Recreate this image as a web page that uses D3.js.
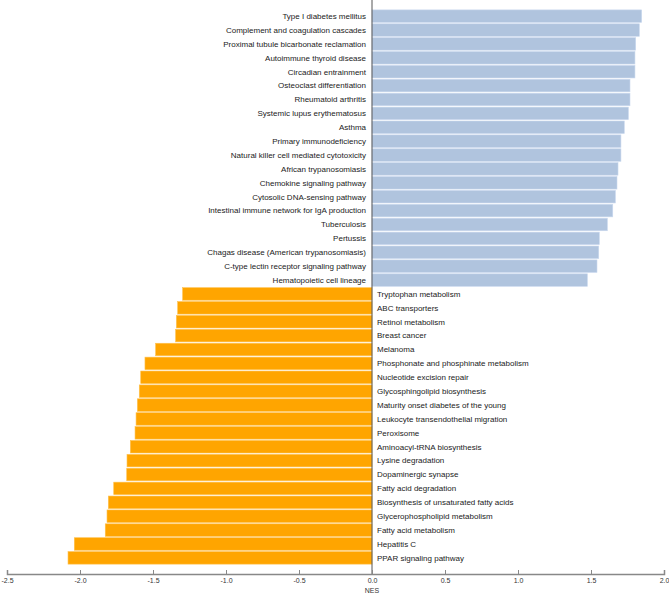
<html>
<head>
<meta charset="UTF-8" />
</head>
<body style="margin:0">
<script src="https://d3js.org/d3.v7.min.js" charset="utf-8"></script>
<script>
var width = 669;
var height = 595;

// enriched pathways (positive NES)
var upPathways = ["Type I diabetes mellitus","Complement and coagulation cascades","Proximal tubule bicarbonate reclamation",
	"Autoimmune thyroid disease","Circadian entrainment","Osteoclast differentiation","Rheumatoid arthritis",
	"Systemic lupus erythematosus","Asthma","Primary immunodeficiency","Natural killer cell mediated cytotoxicity",
	"African trypanosomiasis","Chemokine signaling pathway","Cytosolic DNA-sensing pathway",
	"Intestinal immune network for IgA production","Tuberculosis","Pertussis","Chagas disease (American trypanosomiasis)",
	"C-type lectin receptor signaling pathway","Hematopoietic cell lineage"];
var upNES = [1.847,1.831,1.806,1.801,1.801,1.767,1.767,1.756,1.728,1.705,1.705,
	1.685,1.678,1.667,1.649,1.612,1.557,1.553,1.541,1.475];

// depleted pathways (negative NES)
var downPathways = ["Tryptophan metabolism","ABC transporters","Retinol metabolism","Breast cancer","Melanoma",
	"Phosphonate and phosphinate metabolism","Nucleotide excision repair","Glycosphingolipid biosynthesis",
	"Maturity onset diabetes of the young","Leukocyte transendothelial migration","Peroxisome",
	"Aminoacyl-tRNA biosynthesis","Lysine degradation","Dopaminergic synapse","Fatty acid degradation",
	"Biosynthesis of unsaturated fatty acids","Glycerophospholipid metabolism","Fatty acid metabolism",
	"Hepatitis C","PPAR signaling pathway"];
var downNES = [-1.297,-1.331,-1.340,-1.345,-1.482,-1.555,-1.584,-1.594,-1.607,-1.616,-1.623,
	-1.655,-1.678,-1.680,-1.769,-1.806,-1.815,-1.827,-2.039,-2.082];

var xTicks = [-2.5,-2.0,-1.5,-1.0,-0.5,0.0,0.5,1.0,1.5,2.0];

var data = upPathways.map((p,i) => ({name:p, nes:upNES[i]}))
	.concat(downPathways.map((p,i) => ({name:p, nes:downNES[i]})));

var svg = d3.select("body")
			.append("svg")
			.attr("width",width)
			.attr("height",height)
			.style("font-family","'Liberation Sans', Arial, sans-serif");

var x = d3.scaleLinear()
		  .domain([-2.5,2.0])
		  .range([7,664]);

var y = d3.scaleBand()
		  .domain(data.map(d => d.name))
		  .range([8.5,565.5])
		  .padding(0.1);

var axisY = 574;

//bars
svg.append("g")
   .selectAll("rect")
   .data(data)
   .enter()
   .append("rect")
   .attr("x",d => x(Math.min(0,d.nes)))
   .attr("y",d => y(d.name))
   .attr("width",d => Math.abs(x(d.nes) - x(0)))
   .attr("height",y.bandwidth())
   .attr("fill",d => d.nes > 0 ? "#b0c4de" : "#ffa500")
   .attr("stroke",d => d.nes > 0 ? "#c9d8ee" : "#ffc04d")
   .attr("stroke-width",0.6);

//zero line
svg.append("line")
   .attr("x1",x(0)).attr("x2",x(0))
   .attr("y1",0).attr("y2",axisY)
   .attr("stroke","#555")
   .attr("stroke-width",1);

//labels
svg.append("g")
   .selectAll("text")
   .data(data)
   .enter()
   .append("text")
   .attr("x",d => d.nes > 0 ? x(0) - 6 : x(0) + 5)
   .attr("y",d => y(d.name) + y.bandwidth()/2)
   .attr("dy","0.35em")
   .attr("text-anchor",d => d.nes > 0 ? "end" : "start")
   .attr("font-size","8px")
   .attr("fill","#222")
   .text(d => d.name);

//x axis
var gx = svg.append("g")
			.attr("transform","translate(0," + axisY + ")")
			.call(d3.axisBottom(x)
					.tickValues(xTicks)
					.tickFormat(d => d.toFixed(1))
					.tickSize(-4)
					.tickPadding(4));
gx.select(".domain").attr("stroke","#888").attr("stroke-width",1.5);
gx.selectAll(".tick line").attr("stroke","#888");
gx.selectAll(".tick text").attr("font-size","7px").attr("fill","#333").attr("font-family","'Liberation Sans', Arial, sans-serif");

svg.append("text")
   .attr("x",x(0))
   .attr("y",593)
   .attr("text-anchor","middle")
   .attr("font-size","7px")
   .attr("fill","#333")
   .text("NES");
</script>
</body>
</html>
